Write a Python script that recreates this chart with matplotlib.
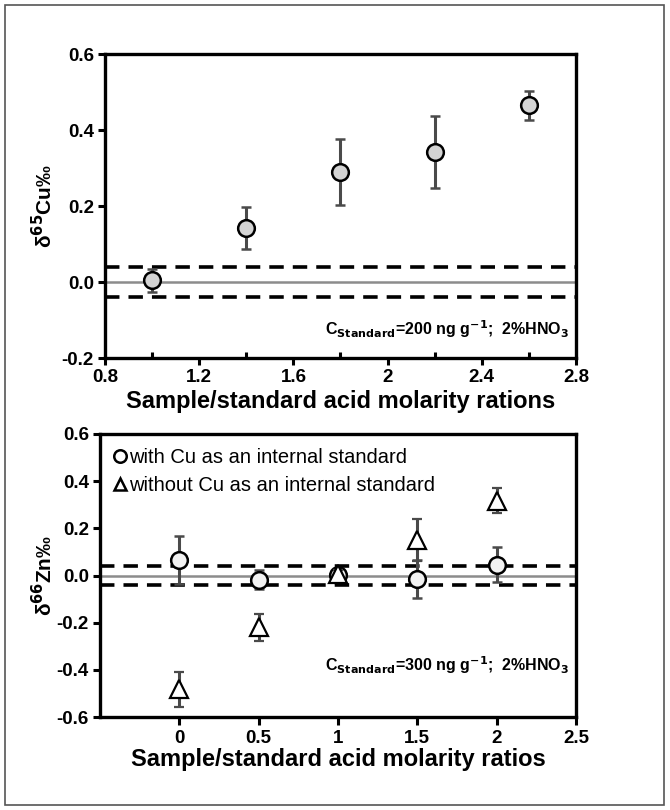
import numpy as np
import matplotlib.pyplot as plt
from matplotlib.lines import Line2D
from matplotlib.patches import Rectangle
from matplotlib.ticker import MultipleLocator

plt.rcParams['font.family'] = ['Liberation Sans', 'DejaVu Sans']

### data

# top panel: delta65Cu vs molarity ratio
cu_x = [1.0, 1.4, 1.8, 2.2, 2.6]
cu_y = [0.005, 0.142, 0.290, 0.342, 0.465]
cu_err = [0.030, 0.055, 0.086, 0.094, 0.039]

# bottom panel: delta66Zn vs molarity ratio
zn_x = [0, 0.5, 1, 1.5, 2]
zn_with_y = [0.066, -0.018, 0.002, -0.014, 0.045]
zn_with_err = [0.100, 0.040, 0.020, 0.080, 0.074]
zn_without_y = [-0.483, -0.220, 0.005, 0.151, 0.317]
zn_without_err = [0.075, 0.058, 0.020, 0.090, 0.052]

band = 0.04
err_col = '#4a4a4a'

fig = plt.figure(figsize=(6.7, 8.1), dpi=100)
fig.patches.append(Rectangle((5/670, 5/810), 659/670, 800/810, transform=fig.transFigure,
                             fill=False, edgecolor='#555555', lw=1.2))

ax1 = fig.add_axes([0.1567, 0.558, 0.703, 0.3753])
ax2 = fig.add_axes([0.1493, 0.1148, 0.7104, 0.3494])


def style_axis(ax):
    for s in ax.spines.values():
        s.set_linewidth(2.4)
    ax.tick_params(axis='both', which='major', direction='out', length=5, width=2.2,
                   labelsize=13.5, pad=3)
    ax.tick_params(axis='both', which='minor', direction='in', length=4, width=2.2)
    ax.tick_params(right=False, top=False)
    for lab in ax.get_xticklabels() + ax.get_yticklabels():
        lab.set_fontweight('bold')
    ax.axhline(0, color='#8c8c8c', lw=1.8, zorder=1)
    ax.axhline(band, color='black', lw=2.6, ls=(0, (4, 2.5)), zorder=2)
    ax.axhline(-band, color='black', lw=2.6, ls=(0, (4, 2.5)), zorder=2)


### top panel
ax1.set_xlim(0.8, 2.8)
ax1.set_ylim(-0.2, 0.6)
ax1.xaxis.set_minor_locator(MultipleLocator(0.2))
ax1.set_xticks(np.arange(0.8, 2.81, 0.4))
ax1.set_xticklabels(['0.8', '1.2', '1.6', '2', '2.4', '2.8'])
ax1.set_yticks([-0.2, 0.0, 0.2, 0.4, 0.6])
ax1.set_yticklabels(['-0.2', '0.0', '0.2', '0.4', '0.6'])
style_axis(ax1)
ax1.errorbar(cu_x, cu_y, yerr=cu_err, fmt='o', ms=12, mfc='#d4d4d4', mec='black', mew=1.8,
             ecolor=err_col, elinewidth=2.2, capsize=3.5, capthick=2.2, zorder=5)
ax1.set_xlabel('Sample/standard acid molarity rations', fontsize=17, fontweight='bold', labelpad=3)
ax1.set_ylabel('δ$^{\\mathbf{65}}$Cu‰', fontsize=15, fontweight='bold', labelpad=4)
ax1.text(0.985, 0.095, r'C$_{\mathbf{Standard}}$=200 ng g$^{\mathbf{-1}}$;  2%HNO$_{\mathbf{3}}$',
         transform=ax1.transAxes, ha='right', va='center', fontsize=11.5, fontweight='bold')

### bottom panel
ax2.set_xlim(-0.5, 2.5)
ax2.set_ylim(-0.6, 0.6)
ax2.set_xticks([0, 0.5, 1, 1.5, 2, 2.5])
ax2.set_xticklabels(['0', '0.5', '1', '1.5', '2', '2.5'])
ax2.set_yticks([-0.6, -0.4, -0.2, 0.0, 0.2, 0.4, 0.6])
ax2.set_yticklabels(['-0.6', '-0.4', '-0.2', '0.0', '0.2', '0.4', '0.6'])
style_axis(ax2)
ax2.tick_params(axis='x', which='major', length=6, width=2.2)
ax2.errorbar(zn_x, zn_with_y, yerr=zn_with_err, fmt='o', ms=12, mfc='#f2f2f2', mec='black', mew=1.8,
             ecolor=err_col, elinewidth=2.2, capsize=3.5, capthick=2.2, zorder=5)
ax2.errorbar(zn_x, zn_without_y, yerr=zn_without_err, fmt='^', ms=13, mfc='white', mec='black', mew=1.6,
             ecolor=err_col, elinewidth=2.2, capsize=3.5, capthick=2.2, zorder=6)
ax2.set_xlabel('Sample/standard acid molarity ratios', fontsize=17, fontweight='bold', labelpad=1)
ax2.set_ylabel('δ$^{\\mathbf{66}}$Zn‰', fontsize=15, fontweight='bold', labelpad=0)
ax2.text(0.985, 0.185, r'C$_{\mathbf{Standard}}$=300 ng g$^{\mathbf{-1}}$;  2%HNO$_{\mathbf{3}}$',
         transform=ax2.transAxes, ha='right', va='center', fontsize=11.5, fontweight='bold')

handles = [Line2D([], [], ls='none', marker='o', ms=9, mfc='white', mec='black', mew=1.8),
           Line2D([], [], ls='none', marker='^', ms=9, mfc='white', mec='black', mew=1.8)]
ax2.legend(handles, ['with Cu as an internal standard', 'without Cu as an internal standard'],
           loc='upper left', frameon=False, handlelength=0.6, handletextpad=0.15,
           labelspacing=0.45, borderaxespad=0.3, prop={'size': 14.5})

fig.savefig('out.png', dpi=100)
